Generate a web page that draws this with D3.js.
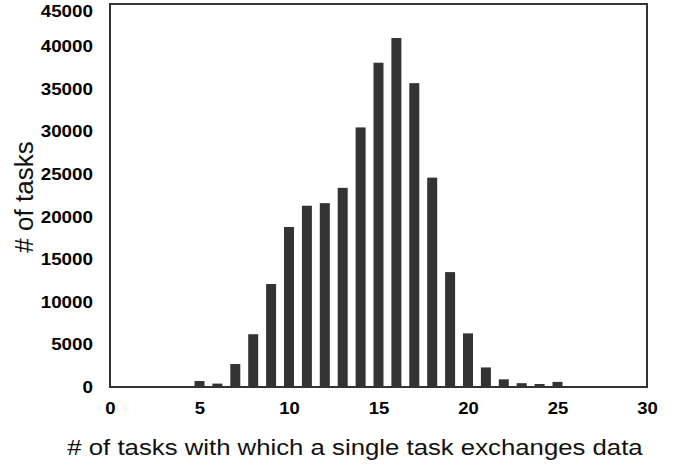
<!DOCTYPE html>
<html><head><meta charset="utf-8">
<script src="https://cdn.jsdelivr.net/npm/d3@7"></script>
<style>body{margin:0;background:#fff}</style>
</head><body>
<script>
const categories = [5,6,7,8,9,10,11,12,13,14,15,16,17,18,19,20,21,22,23,24,25];
const counts = [700,400,2700,6200,12100,18800,21300,21600,23400,30500,38100,41000,35700,24600,13500,6300,2300,900,450,350,600];
const xTicks = [0,5,10,15,20,25,30];
const yTicks = [0,5000,10000,15000,20000,25000,30000,35000,40000,45000];
const xTitle = "# of tasks with which a single task exchanges data";
const yTitle = "# of tasks";

const W = 686, H = 467;
const m = {left:110, right:39, top:4, bottom:80};
const svg = d3.select("body").append("svg").attr("width",W).attr("height",H);
const x = d3.scaleLinear().domain([0,30]).range([m.left, W-m.right]);
const y = d3.scaleLinear().domain([0,45000]).range([H-m.bottom, m.top]);
const bw = 10;
const font = "Liberation Sans, Arial, Helvetica, sans-serif";

svg.append("g").selectAll("rect").data(categories).join("rect")
  .attr("x", (d)=>x(d)-bw/2).attr("width", bw)
  .attr("y", (d,i)=>y(counts[i])).attr("height",(d,i)=>y(0)-y(counts[i]))
  .attr("fill","#333");

svg.append("rect").attr("x",x(0)).attr("y",y(45000)).attr("width",x(30)-x(0)).attr("height",y(0)-y(45000))
  .attr("fill","none").attr("stroke","#333").attr("stroke-width",2);

const xa = svg.append("g").attr("transform",`translate(0,${y(0)+15})`)
  .call(d3.axisBottom(x).tickValues(xTicks).tickFormat(d3.format("d")).tickSize(0).tickPadding(0));
xa.select(".domain").remove();
xa.selectAll("text").attr("font-family",font).attr("font-weight","bold").attr("font-size",16.5).attr("fill","#000")
  .attr("dy","0.71em").attr("transform","scale(1.12,1)");

const ya = svg.append("g").attr("transform",`translate(${m.left-17},0)`)
  .call(d3.axisLeft(y).tickValues(yTicks).tickFormat(d3.format("d")).tickSize(0).tickPadding(0));
ya.select(".domain").remove();
ya.selectAll("text").attr("font-family",font).attr("font-weight","bold").attr("font-size",16.5).attr("fill","#000")
  .attr("transform","scale(1.14,1)")
  .attr("y", d => Math.max(0, y(45000)+7 - y(d)));

svg.append("text").attr("x",355).attr("y",455).attr("text-anchor","middle")
  .attr("font-family",font).attr("font-size",23).attr("fill","#111")
  .attr("transform","translate(355,0) scale(1.12,1) translate(-355,0)").text(xTitle);
svg.append("text").attr("transform","translate(33,197) rotate(-90)").attr("text-anchor","middle")
  .attr("font-family",font).attr("font-size",26).attr("fill","#111").text(yTitle);
</script>
</body></html>
